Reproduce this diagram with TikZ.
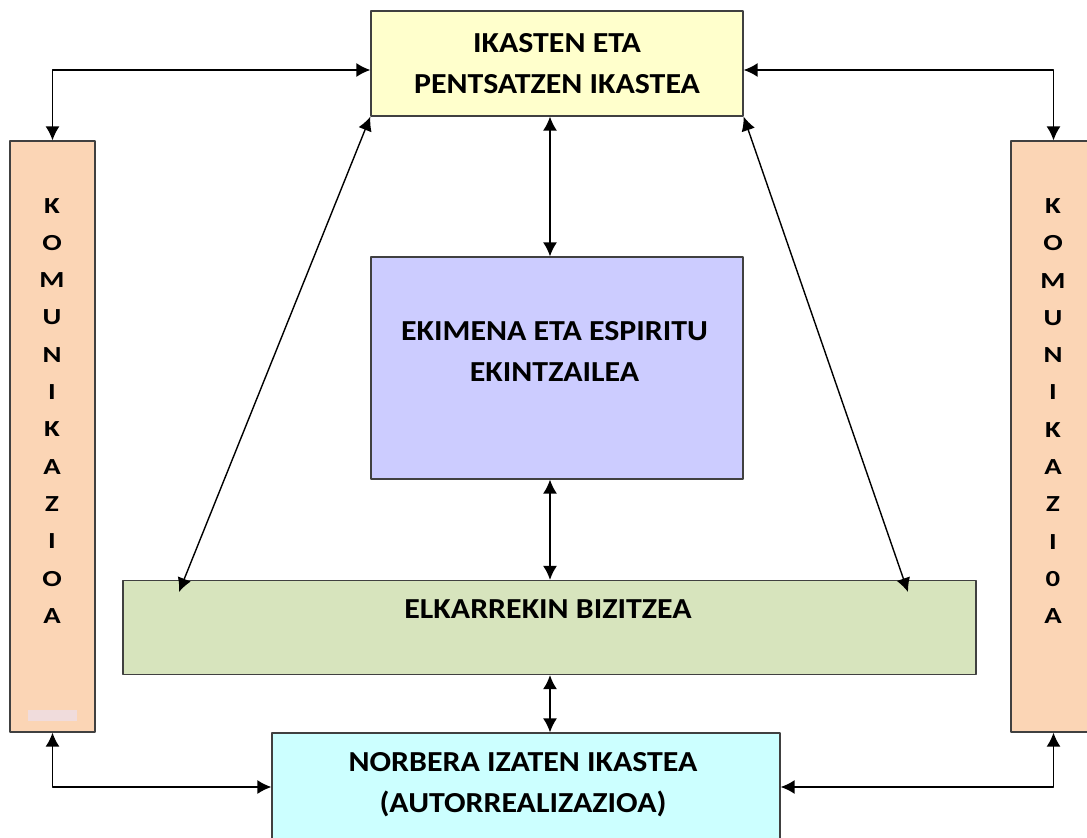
\documentclass[tikz,border=0pt]{standalone}
\usepackage{fontspec}
\setmainfont{Carlito}[FakeStretch=1.1]
\newfontfamily\widefont{Carlito}[FakeStretch=1.25]
\usetikzlibrary{arrows.meta}
\definecolor{learnbg}{HTML}{FFFFCC}
\definecolor{initbg}{HTML}{CCCCFF}
\definecolor{livebg}{HTML}{D7E4BD}
\definecolor{selfbg}{HTML}{CCFFFF}
\definecolor{commbg}{HTML}{FBD5B5}
\definecolor{markbg}{HTML}{F0DCDC}
\begin{document}
\begin{tikzpicture}[x=1pt,y=-1pt,line join=round,>={Latex[length=14pt,width=14pt]}]
	\tikzset{box/.style={draw=black!75,line width=1.3pt,inner sep=0pt},
		conn/.style={<->,line width=1.4pt},
		big/.style={font=\fontsize{29}{41}\selectfont\bfseries,align=center},
		letter/.style={font=\fontsize{23}{23}\widefont\bfseries}}
	\useasboundingbox (0,0) rectangle (1087,838);
	\clip (0,0) rectangle (1087,838);
	\node[box,fill=learnbg,minimum width=372,minimum height=105,big] (learn) at (557,63.5) {IKASTEN ETA\\PENTSATZEN IKASTEA};
	\node[box,fill=initbg,minimum width=372,minimum height=222] (init) at (557,368) {};
	\node[box,fill=livebg,minimum width=853,minimum height=94] (live) at (549.5,627.5) {};
	\node[box,fill=selfbg,minimum width=508,minimum height=120] (self) at (526,793) {};
	\node[box,fill=commbg,minimum width=85,minimum height=591] (cl) at (52.5,436.5) {};
	\node[box,fill=commbg,minimum width=85,minimum height=591] (cr) at (1053.5,436.5) {};
	\fill[markbg] (28,710) rectangle (77,721);
	\node[big] (initt) at (554.5,351.5) {EKIMENA ETA ESPIRITU\\EKINTZAILEA};
	\node[big] (livet) at (548,609) {ELKARREKIN BIZITZEA};
	\node[big] (selft) at (523,785) {NORBERA IZATEN IKASTEA\\(AUTORREALIZAZIOA)};
	\foreach \c [count=\i] in {K,O,M,U,N,I,K,A,Z,I,O,A}
	\node[letter] (cl\i) at (52,168.4+37.3*\i) {\c};
	\foreach \c [count=\i] in {K,O,M,U,N,I,K,A,Z,I,0,A}
	\node[letter] (cr\i) at (1053,168.7+37.3*\i) {\c};
	\coordinate (livel) at (179,592);
	\coordinate (liver) at (908,592);
	\draw[conn] (cl.north) |- (learn.west |- 0,70);
	\draw[conn] (learn.east |- 0,70) -| (cr.north);
	\draw[conn] (cl.south) |- (self.west |- 0,787);
	\draw[conn] (self.east |- 0,787) -| (cr.south);
	\draw[conn] (550,0 |- learn.south) -- (550,0 |- init.north);
	\draw[conn] (550,0 |- init.south) -- (550,0 |- live.north);
	\draw[conn] (550,0 |- live.south) -- (550,0 |- self.north);
	\draw[conn] (learn.south west) -- (livel);
	\draw[conn] (learn.south east) -- (liver);
\end{tikzpicture}
\end{document}
